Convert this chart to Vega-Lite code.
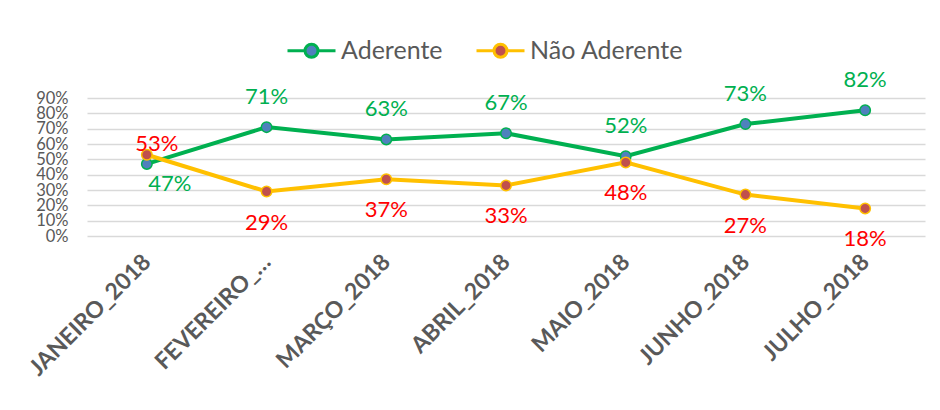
{
  "$schema": "https://vega.github.io/schema/vega-lite/v6.json",
  "autosize": {"type": "none"},
  "width": 838,
  "height": 138,
  "padding": {"left": 87, "top": 98, "right": 15, "bottom": 174},
  "background": "white",
  "config": {"view": {"stroke": null}, "font": "Lato"},
  "data": {
    "values": [
      {"mes": "JANEIRO_2018", "serie": "Aderente", "valor": 0.47},
      {"mes": "FEVEREIRO_2018", "serie": "Aderente", "valor": 0.71},
      {"mes": "MARÇO_2018", "serie": "Aderente", "valor": 0.63},
      {"mes": "ABRIL_2018", "serie": "Aderente", "valor": 0.67},
      {"mes": "MAIO_2018", "serie": "Aderente", "valor": 0.52},
      {"mes": "JUNHO_2018", "serie": "Aderente", "valor": 0.73},
      {"mes": "JULHO_2018", "serie": "Aderente", "valor": 0.82},
      {"mes": "JANEIRO_2018", "serie": "Não Aderente", "valor": 0.53},
      {"mes": "FEVEREIRO_2018", "serie": "Não Aderente", "valor": 0.29},
      {"mes": "MARÇO_2018", "serie": "Não Aderente", "valor": 0.37},
      {"mes": "ABRIL_2018", "serie": "Não Aderente", "valor": 0.33},
      {"mes": "MAIO_2018", "serie": "Não Aderente", "valor": 0.48},
      {"mes": "JUNHO_2018", "serie": "Não Aderente", "valor": 0.27},
      {"mes": "JULHO_2018", "serie": "Não Aderente", "valor": 0.18}
    ]
  },
  "encoding": {
    "x": {
      "field": "mes",
      "type": "ordinal",
      "sort": ["JANEIRO_2018", "FEVEREIRO_2018", "MARÇO_2018", "ABRIL_2018", "MAIO_2018", "JUNHO_2018", "JULHO_2018"],
      "scale": {"type": "point", "padding": 0.5},
      "axis": {
        "title": null,
        "domain": false,
        "ticks": false,
        "grid": false,
        "labelAngle": -45,
        "labelAlign": "right",
        "labelBaseline": "middle",
        "labelPadding": 22,
        "labelFont": "Lato",
        "labelFontSize": 23,
        "labelFontWeight": "bold",
        "labelColor": "#595959",
        "labelLimit": 400,
        "labelOverlap": false,
        "labelExpr": "datum.label == 'FEVEREIRO_2018' ? 'FEVEREIRO_…' : datum.label"
      }
    },
    "y": {
      "field": "valor",
      "type": "quantitative",
      "scale": {"domain": [0, 0.9], "nice": false},
      "axis": {
        "title": null,
        "domain": false,
        "ticks": false,
        "values": [0, 0.1, 0.2, 0.3, 0.4, 0.5, 0.6, 0.7, 0.8, 0.9],
        "format": ".0%",
        "labelOverlap": false,
        "labelPadding": 19,
        "labelFont": "Lato",
        "labelFontSize": 16.5,
        "labelColor": "#595959",
        "gridColor": "#D9D9D9",
        "gridWidth": 1.3
      }
    }
  },
  "layer": [
    {
      "mark": {"type": "line", "strokeWidth": 4},
      "encoding": {
        "stroke": {
          "field": "serie",
          "type": "nominal",
          "scale": {"domain": ["Aderente", "Não Aderente"], "range": ["#00B050", "#FFC000"]},
          "legend": {
            "title": null,
            "orient": "none",
            "direction": "horizontal",
            "legendX": 199,
            "legendY": -73,
            "symbolType": "M-1,0H-0.27M0.27,0H1M-0.27,0A0.27,0.27 0 1 0 0.27,0A0.27,0.27 0 1 0 -0.27,0",
            "symbolSize": 2304,
            "symbolStrokeWidth": 3,
            "labelFont": "Lato",
            "labelFontSize": 25,
            "labelColor": "#595959",
            "labelOffset": 4,
            "columnPadding": 27,
            "encode": {
              "symbols": {
                "update": {
                  "fill": {"signal": "datum.value == 'Aderente' ? '#4F81BD' : '#C0504D'"},
                  "strokeWidth": {"value": 3},
                  "opacity": {"value": 1}
                }
              }
            }
          }
        }
      }
    },
    {
      "mark": {"type": "point", "filled": true, "size": 110, "strokeWidth": 1.5, "opacity": 1},
      "encoding": {
        "stroke": {"field": "serie", "type": "nominal"},
        "fill": {
          "field": "serie",
          "type": "nominal",
          "scale": {"domain": ["Aderente", "Não Aderente"], "range": ["#4F81BD", "#C0504D"]},
          "legend": null
        }
      }
    },
    {
      "transform": [{"filter": "datum.serie == 'Aderente' && datum.mes != 'JANEIRO_2018'"}],
      "mark": {"type": "text", "dy": -30, "fontSize": 22, "font": "Lato", "color": "#00B050", "baseline": "middle"},
      "encoding": {"text": {"field": "valor", "type": "quantitative", "format": ".0%"}}
    },
    {
      "transform": [{"filter": "datum.serie != 'Aderente' && datum.mes != 'JANEIRO_2018'"}],
      "mark": {"type": "text", "dy": 31, "fontSize": 22, "font": "Lato", "color": "#FF0000", "baseline": "middle"},
      "encoding": {"text": {"field": "valor", "type": "quantitative", "format": ".0%"}}
    },
    {
      "transform": [{"filter": "datum.serie == 'Aderente' && datum.mes == 'JANEIRO_2018'"}],
      "mark": {"type": "text", "dy": 20, "dx": 23, "fontSize": 22, "font": "Lato", "color": "#00B050", "baseline": "middle"},
      "encoding": {"text": {"field": "valor", "type": "quantitative", "format": ".0%"}}
    },
    {
      "transform": [{"filter": "datum.serie != 'Aderente' && datum.mes == 'JANEIRO_2018'"}],
      "mark": {"type": "text", "dy": -11, "dx": 10, "fontSize": 22, "font": "Lato", "color": "#FF0000", "baseline": "middle"},
      "encoding": {"text": {"field": "valor", "type": "quantitative", "format": ".0%"}}
    }
  ]
}
